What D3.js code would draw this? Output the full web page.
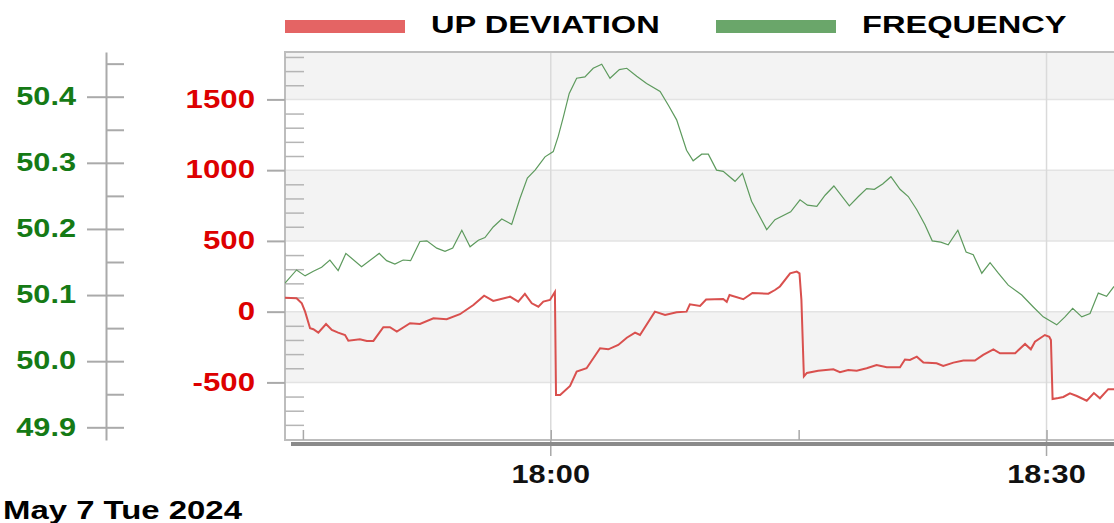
<!DOCTYPE html>
<html>
<head>
<meta charset="utf-8">
<script src="https://cdn.jsdelivr.net/npm/d3@7"></script>
<style>
  body { margin: 0; background: #fff; }
  svg { display: block; font-family: "Liberation Sans", Arial, sans-serif; font-weight: bold; }
</style>
</head>
<body>
<svg width="1114" height="523"></svg>
<script>
// frequency (Hz) samples
var freqTimes = ["17:43:55","17:44:37","17:45:08","17:45:38","17:46:08","17:46:38","17:47:08","17:47:36","17:48:33","17:49:37",
  "17:50:04","17:50:34","17:51:04","17:51:31","17:52:05","17:52:30","17:53:06","17:53:36","17:54:04","17:54:37",
  "17:55:07","17:55:37","17:56:01","17:56:31","17:57:02","17:57:38","17:58:08","17:58:35","17:59:03","17:59:39",
  "18:00:09","18:00:27","18:00:46","18:01:07","18:01:34","18:02:04","18:02:34","18:03:05","18:03:35","18:04:09",
  "18:04:36","18:05:12","18:05:48","18:06:37","18:07:07","18:07:37","18:08:13","18:08:37","18:09:08","18:09:32",
  "18:10:02","18:10:26","18:11:09","18:11:36","18:12:09","18:13:04","18:13:34","18:14:31","18:15:05","18:15:32",
  "18:16:06","18:16:36","18:17:08","18:18:04","18:18:37","18:19:07","18:19:35","18:20:05","18:20:35","18:21:08",
  "18:21:38","18:22:09","18:22:39","18:23:05","18:23:36","18:24:03","18:24:38","18:25:08","18:25:34","18:26:05",
  "18:26:35","18:27:05","18:27:41","18:28:30","18:29:12","18:29:48","18:30:37","18:31:07","18:31:35","18:32:08",
  "18:32:38","18:33:08","18:33:38","18:34:05"];
var freqValues = [50.118,50.138,50.129,50.136,50.142,50.153,50.137,50.163,50.143,50.163,
  50.152,50.147,50.153,50.152,50.181,50.182,50.171,50.166,50.171,50.198,
  50.173,50.183,50.187,50.203,50.215,50.207,50.246,50.277,50.289,50.309,
  50.317,50.340,50.370,50.405,50.428,50.430,50.443,50.449,50.428,50.441,
  50.443,50.431,50.420,50.408,50.387,50.365,50.319,50.303,50.313,50.313,
  50.289,50.287,50.272,50.284,50.242,50.199,50.214,50.226,50.244,50.236,
  50.234,50.251,50.265,50.235,50.249,50.261,50.260,50.268,50.279,50.260,
  50.249,50.229,50.206,50.182,50.180,50.176,50.198,50.165,50.161,50.133,
  50.149,50.133,50.115,50.100,50.082,50.067,50.055,50.067,50.080,50.067,
  50.072,50.103,50.098,50.113];

// up deviation (MW) samples
var devTimes = ["17:43:55","17:44:37","17:44:56","17:45:08","17:45:26","17:45:38","17:45:56","17:46:24","17:46:45","17:47:08",
  "17:47:33","17:47:45","17:48:27","17:48:52","17:49:16","17:49:52","17:50:16","17:50:41","17:51:29","17:52:05",
  "17:52:54","17:53:42","17:54:30","17:55:19","17:55:58","17:56:31","17:56:56","17:57:32","17:58:02","17:58:26",
  "17:58:51","17:59:15","17:59:33","17:59:57","18:00:15","18:00:19","18:00:34","18:01:10","18:01:34","18:02:10",
  "18:02:59","18:03:29","18:04:05","18:04:36","18:05:06","18:05:24","18:06:18","18:06:55","18:07:37","18:08:13",
  "18:08:25","18:09:02","18:09:24","18:10:26","18:10:39","18:10:49","18:11:39","18:12:12","18:13:10","18:13:34",
  "18:13:52","18:14:29","18:14:53","18:15:03","18:15:10","18:15:19","18:15:30","18:16:11","18:17:06","18:17:30",
  "18:18:00","18:18:31","18:19:07","18:19:43","18:20:20","18:21:08","18:21:26","18:21:44","18:22:09","18:22:33",
  "18:23:21","18:23:45","18:24:22","18:24:58","18:25:40","18:26:10","18:26:47","18:27:11","18:28:06","18:28:42",
  "18:29:03","18:29:18","18:29:54","18:30:10","18:30:16","18:30:22","18:30:43","18:31:01","18:31:25","18:31:50",
  "18:32:26","18:32:52","18:33:14","18:33:44","18:34:05"];
var devValues = [99,95,59,0,-117,-124,-148,-87,-129,-148,
  -165,-205,-195,-207,-207,-110,-110,-141,-82,-87,
  -47,-54,-18,47,113,76,88,106,71,125,
  59,35,71,83,139,-589,-589,-525,-423,-400,
  -259,-266,-235,-184,-148,-165,0,-23,-4,0,
  52,40,86,90,69,118,88,132,127,153,
  178,271,283,271,83,-458,-433,-418,-407,-428,
  -412,-417,-400,-377,-393,-393,-338,-341,-318,-360,
  -365,-384,-360,-346,-346,-306,-266,-294,-294,-228,
  -266,-212,-165,-177,-200,-617,-610,-603,-577,-596,
  -629,-575,-612,-548,-548];

var devTicks = [-500, 0, 500, 1000, 1500];
var freqTicks = [49.9, 50.0, 50.1, 50.2, 50.3, 50.4];
var timeLabels = ["18:00", "18:30"];
var seriesNames = ["UP DEVIATION", "FREQUENCY"];
var dateLabel = "May 7 Tue 2024";

var parse = function (s) { return d3.timeParse("%Y-%m-%d %H:%M:%S")("2024-05-07 " + (s.length === 5 ? s + ":00" : s)); };

var svg = d3.select("svg"),
    plotLeft = 285, plotRight = 1114, plotTop = 52, plotBottom = 440,
    redText = "#dd0000", greenText = "#157a15",
    redLine = "#d9504e", greenLine = "#5d9a5d";

var x = d3.scaleTime().domain([parse("17:43:55"), parse("18:34:05")]).range([plotLeft, plotRight]);
var yDev = d3.scaleLinear().domain([-907, 1835]).range([plotBottom, plotTop]);
var yFreq = d3.scaleLinear().domain([49.8808, 50.4676]).range([plotBottom, plotTop]);

// the source renders its bold text a bit wider than Arial
function widen(k) {
    return function (sel) {
        sel.each(function () {
            var w = this.getComputedTextLength();
            d3.select(this).attr("textLength", w * k).attr("lengthAdjust", "spacingAndGlyphs");
        });
    };
}

// shaded bands
var bands = [[1500, 1835], [500, 1000], [-500, 0]];
svg.append("g").selectAll("rect")
    .data(bands)
    .enter().append("rect")
    .attr("x", plotLeft).attr("width", plotRight - plotLeft)
    .attr("y", function (d) { return yDev(d[1]); })
    .attr("height", function (d) { return yDev(d[0]) - yDev(d[1]); })
    .attr("fill", "#f3f3f3");

// horizontal grid
svg.append("g").selectAll("line")
    .data(devTicks)
    .enter().append("line")
    .attr("x1", plotLeft).attr("x2", plotRight)
    .attr("y1", function (d) { return yDev(d); }).attr("y2", function (d) { return yDev(d); })
    .attr("stroke", "#e3e3e3").attr("stroke-width", 1.5);

// vertical grid at labelled times
svg.append("g").selectAll("line")
    .data(timeLabels)
    .enter().append("line")
    .attr("x1", function (d) { return x(parse(d)); }).attr("x2", function (d) { return x(parse(d)); })
    .attr("y1", plotTop).attr("y2", plotBottom)
    .attr("stroke", "#dadada").attr("stroke-width", 1.5);

// frame
svg.append("path")
    .attr("d", "M" + plotRight + "," + plotTop + "H" + plotLeft + "V" + plotBottom + "H" + plotRight)
    .attr("fill", "none").attr("stroke", "#bdbdbd").attr("stroke-width", 2);

// x ticks every 15 minutes (inside)
var xAxis = svg.append("g")
    .attr("transform", "translate(0," + plotBottom + ")")
    .call(d3.axisBottom(x).ticks(d3.timeMinute.every(15)).tickSize(-10).tickFormat(""));
xAxis.select(".domain").remove();
xAxis.selectAll("line").attr("stroke", "#a8a8a8").attr("stroke-width", 1.5);

// longer ticks under labelled times
svg.append("g").selectAll("line")
    .data(timeLabels)
    .enter().append("line")
    .attr("x1", function (d) { return x(parse(d)); }).attr("x2", function (d) { return x(parse(d)); })
    .attr("y1", plotBottom).attr("y2", plotBottom + 16)
    .attr("stroke", "#a8a8a8").attr("stroke-width", 1.5);

svg.append("line")
    .attr("x1", plotLeft + 6).attr("x2", plotRight).attr("y1", plotBottom + 4).attr("y2", plotBottom + 4)
    .attr("stroke", "#8a8a8a").attr("stroke-width", 4);

svg.append("g").selectAll("text")
    .data(timeLabels)
    .enter().append("text")
    .attr("x", function (d) { return x(parse(d)); })
    .attr("y", 483)
    .attr("text-anchor", "middle")
    .attr("font-size", 26)
    .attr("fill", "#111")
    .text(function (d) { return d; })
    .call(widen(1.18));

// red axis
var devAxis = svg.append("g")
    .attr("transform", "translate(" + plotLeft + ",0)")
    .call(d3.axisLeft(yDev).tickValues(devTicks).tickSize(18).tickSizeOuter(0).tickPadding(12)
        .tickFormat(function (d) { return String(d); }));
devAxis.select(".domain").remove();
devAxis.selectAll("line").attr("stroke", "#aaa").attr("stroke-width", 2);
devAxis.selectAll("text")
    .attr("font-size", 26).attr("fill", redText).attr("dy", "0.3em")
    .call(widen(1.2));

var devMinor = svg.append("g")
    .attr("transform", "translate(" + plotLeft + ",0)")
    .call(d3.axisRight(yDev).tickValues(d3.range(-800, 1801, 100).filter(function (d) { return d % 500 !== 0; }))
        .tickSize(19).tickFormat(""));
devMinor.select(".domain").remove();
devMinor.selectAll("line").attr("stroke", "#b5b5b5").attr("stroke-width", 1.5);

// green axis
var freqAxis = svg.append("g")
    .attr("transform", "translate(106,0)")
    .call(d3.axisLeft(yFreq).tickValues(freqTicks).tickSize(19).tickSizeOuter(0).tickPadding(11)
        .tickFormat(d3.format(".1f")));
freqAxis.select(".domain").attr("stroke", "#aaa").attr("stroke-width", 2);
freqAxis.selectAll("line").attr("stroke", "#aaa").attr("stroke-width", 2);
freqAxis.selectAll("text")
    .attr("font-size", 26).attr("fill", greenText).attr("dy", "0.3em")
    .call(widen(1.18));

var freqRight = svg.append("g")
    .attr("transform", "translate(106,0)")
    .call(d3.axisRight(yFreq).tickValues(d3.range(49.9, 50.46, 0.05)).tickSize(18).tickFormat(""));
freqRight.select(".domain").remove();
freqRight.selectAll("line").attr("stroke", "#aaa").attr("stroke-width", 2);

// lines
svg.append("clipPath").attr("id", "plot")
    .append("rect").attr("x", plotLeft).attr("y", plotTop).attr("width", plotRight - plotLeft).attr("height", plotBottom - plotTop);

var freqData = freqTimes.map(function (t, i) { return { t: parse(t), v: freqValues[i] }; });
var devData = devTimes.map(function (t, i) { return { t: parse(t), v: devValues[i] }; });

svg.append("path")
    .datum(freqData)
    .attr("clip-path", "url(#plot)")
    .attr("fill", "none").attr("stroke", greenLine).attr("stroke-width", 1.2)
    .attr("d", d3.line().x(function (d) { return x(d.t); }).y(function (d) { return yFreq(d.v); }));

svg.append("path")
    .datum(devData)
    .attr("clip-path", "url(#plot)")
    .attr("fill", "none").attr("stroke", redLine).attr("stroke-width", 2)
    .attr("d", d3.line().x(function (d) { return x(d.t); }).y(function (d) { return yDev(d.v); }));

// legend
var legend = svg.append("g");
var legendX = [285, 716], legendColors = ["#e46464", "#6aa66a"];
seriesNames.forEach(function (name, i) {
    legend.append("rect")
        .attr("x", legendX[i]).attr("y", 20).attr("width", 120).attr("height", 13)
        .attr("fill", legendColors[i]);
    legend.append("text")
        .attr("x", legendX[i] + 146).attr("y", 32.5)
        .attr("font-size", 24.5).attr("fill", "#000")
        .text(name)
        .call(widen(1.33));
});

// date
svg.append("text")
    .attr("x", 3).attr("y", 518.5)
    .attr("font-size", 25.5).attr("fill", "#000")
    .text(dateLabel)
    .call(widen(1.29));
</script>
</body>
</html>
